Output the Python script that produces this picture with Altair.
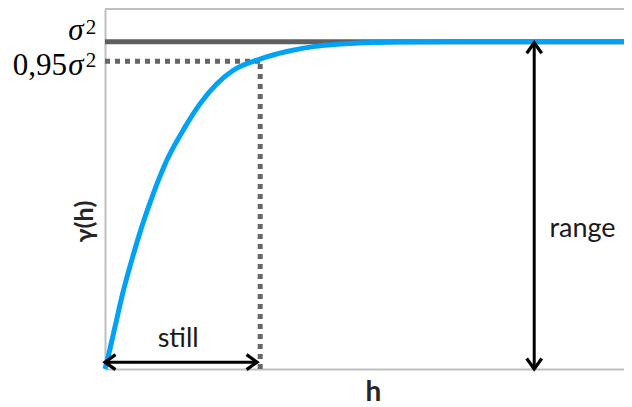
import altair as alt
import pandas as pd

# ---- data ----
curve_h = [0, 0.44, 1.93, 3.41, 5.14, 7.07, 9.31, 11.89, 15.41, 18.30, 21.52, 24.66, 29.87,
           35.01, 40.08, 45.28, 50.42, 56.84, 66.5, 100]
curve_g = [0, 0.027, 0.129, 0.231, 0.332, 0.434, 0.536, 0.637, 0.739, 0.810, 0.871, 0.912, 0.947,
           0.970, 0.985, 0.993, 0.997, 0.999, 1.0, 1.0]

sill = 1.0
sill95 = 0.94          # dotted level as drawn
h95 = 29.9             # h of the dotted vertical
range_h = 82.7         # position of the "range" arrow
still_g = 0.021        # height of the "still" arrow
x_max = 100
y_max = 1.1

tick_values = [1.0, 0.94]
tick_prefix = ["", "0,95"]

annot_text = ["still", "range"]
annot_h = [14.1, 92.0]
annot_g = [0.067, 0.402]

X = alt.Scale(domain=[0, x_max], nice=False, zero=False)
Y = alt.Scale(domain=[0, y_max], nice=False, zero=False)

curve = pd.DataFrame({"h": curve_h, "g": curve_g})

base_axes = alt.Chart(pd.DataFrame({"h": [0, x_max], "g": [0, 0]})).mark_line(opacity=0).encode(
    x=alt.X("h:Q", scale=X, axis=alt.Axis(
        title="h", grid=False, ticks=False, labels=False,
        domainColor="#bfbfbf", domainWidth=2,
        titleFont="Lato", titleFontSize=28, titleFontWeight="bold", titleColor="#262626",
        titleX=268, titleY=31, titleBaseline="alphabetic", titleAlign="center")),
    y=alt.Y("g:Q", scale=Y, axis=alt.Axis(
        title="γ(h)", grid=False, ticks=False, labels=False,
        domainColor="#bfbfbf", domainWidth=2,
        titleFont="Lato", titleFontSize=25, titleFontWeight="bold", titleColor="#262626",
        titleX=-21, titleY=212, titleBaseline="middle", titleAlign="center", titleAngle=-90)),
)

top_edge = alt.Chart(pd.DataFrame({"a": [0], "b": [x_max], "g": [y_max]})).mark_rule(
    color="#bfbfbf", strokeWidth=2).encode(
    x=alt.X("a:Q", scale=X), x2="b:Q", y=alt.Y("g:Q", scale=Y))

sill_line = alt.Chart(pd.DataFrame({"a": [0], "b": [x_max], "g": [sill]})).mark_rule(
    color="#5f5f5f", strokeWidth=5).encode(
    x=alt.X("a:Q", scale=X), x2="b:Q", y=alt.Y("g:Q", scale=Y))

dot_h = alt.Chart(pd.DataFrame({"a": [0], "b": [h95], "g": [sill95]})).mark_rule(
    color="#666666", strokeWidth=5, strokeDash=[5, 5]).encode(
    x=alt.X("a:Q", scale=X), x2="b:Q", y=alt.Y("g:Q", scale=Y))

dot_v = alt.Chart(pd.DataFrame({"h": [h95], "a": [0], "b": [sill95]})).mark_rule(
    color="#666666", strokeWidth=5, strokeDash=[5, 5]).encode(
    x=alt.X("h:Q", scale=X), y=alt.Y("a:Q", scale=Y), y2="b:Q")

curve_line = alt.Chart(curve).mark_line(
    color="#00a2f5", strokeWidth=5, interpolate="monotone").encode(
    x=alt.X("h:Q", scale=X), y=alt.Y("g:Q", scale=Y))

arrow_h = alt.Chart(pd.DataFrame({"a": [0], "b": [h95 - 0.6], "g": [still_g]})).mark_rule(
    color="black", strokeWidth=3).encode(
    x=alt.X("a:Q", scale=X), x2="b:Q", y=alt.Y("g:Q", scale=Y))

arrow_v = alt.Chart(pd.DataFrame({"h": [range_h], "a": [0], "b": [sill - 0.003]})).mark_rule(
    color="black", strokeWidth=3).encode(
    x=alt.X("h:Q", scale=X), y=alt.Y("a:Q", scale=Y), y2="b:Q")

heads = pd.DataFrame({
    "h": [0, h95 - 0.6, range_h, range_h],
    "g": [still_g, still_g, sill - 0.003, 0],
    "angle": [180, 0, 270, 90],
})
arrow_heads = alt.Chart(heads).mark_point(
    shape="M -1.4 -1 L 0 0 L -1.4 1", size=225, filled=False,
    stroke="black", strokeWidth=3.2, opacity=1).encode(
    x=alt.X("h:Q", scale=X), y=alt.Y("g:Q", scale=Y),
    angle=alt.Angle("angle:Q", scale=None))

annots = alt.Chart(pd.DataFrame({"t": annot_text, "h": annot_h, "g": annot_g})).mark_text(
    font="Lato", fontSize=27, color="#1a1a1a", align="center", baseline="alphabetic").encode(
    x=alt.X("h:Q", scale=X), y=alt.Y("g:Q", scale=Y), text="t:N")

# tick labels: σ² and 0,95σ²
label_layers = []
offsets = [(-2, -8), (14, 6)]   # (baseline dy, superscript dy) for each label
for val, pre, (dy_main, dy_sup) in zip(tick_values, tick_prefix, offsets):
    df = pd.DataFrame({"g": [val], "h": [0], "pre": [pre], "s": ["σ"], "two": ["2"]})
    enc = dict(x=alt.X("h:Q", scale=X), y=alt.Y("g:Q", scale=Y))
    label_layers.append(alt.Chart(df).mark_text(
        font="Liberation Serif", fontSize=31, color="#000", align="right",
        baseline="alphabetic", dx=-38, dy=dy_main).encode(text="pre:N", **enc))
    label_layers.append(alt.Chart(df).mark_text(
        font="Liberation Serif", fontSize=31, fontStyle="italic", color="#000", align="center",
        baseline="alphabetic", dx=-29, dy=dy_main).encode(text="s:N", **enc))
    label_layers.append(alt.Chart(df).mark_text(
        font="Liberation Serif", fontSize=21, color="#000", align="center",
        baseline="alphabetic", dx=-14, dy=dy_sup).encode(text="two:N", **enc))

chart = alt.layer(
    base_axes, top_edge, sill_line, dot_h, dot_v, curve_line,
    arrow_h, arrow_v, arrow_heads, annots, *label_layers
).properties(
    width=519, height=360,
    autosize=alt.AutoSizeParams(type="none"),
    padding={"left": 97, "top": 1, "right": 0, "bottom": 37},
).configure_view(stroke=None)

chart.save("out.html", embed_options={"renderer": "svg", "actions": False})
